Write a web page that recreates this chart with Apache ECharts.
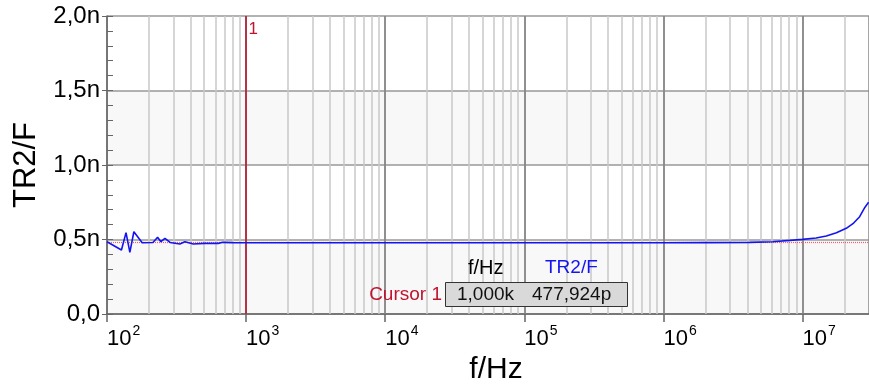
<!DOCTYPE html>
<html>
<head>
<meta charset="utf-8">
<script src="https://cdn.jsdelivr.net/npm/echarts@6/dist/echarts.min.js"></script>
<style>
html,body{margin:0;padding:0;background:#fff;}
#c{width:869px;height:386px;}
</style>
</head>
<body>
<div id="c"></div>
<script>
// Frequencies (Hz) and TR2/F values (nF)
const freqs = [100, 127, 137, 146, 156, 179, 214, 231, 244, 261, 284, 334, 363, 417, 500, 630, 680, 800, 1000,
  1e4, 1e5, 1e6, 2e6, 4.16e6, 6.12e6, 1e7, 1.25e7, 1.48e7, 1.75e7, 2.06e7, 2.3e7, 2.57e7, 2.8e7, 2.98e7];
const values = [0.485, 0.43, 0.546, 0.414, 0.552, 0.478, 0.48, 0.515, 0.485, 0.508, 0.48, 0.47, 0.485, 0.47, 0.474, 0.474, 0.481, 0.479, 0.478,
  0.478, 0.478, 0.478, 0.479, 0.481, 0.485, 0.501, 0.51, 0.523, 0.545, 0.575, 0.606, 0.653, 0.715, 0.75];
// Cursor
const cursorFreq = 1000;
const cursorValue = 0.477924;
const cursorFreqLabel = '1,000k';
const cursorValueLabel = '477,924p';
// Axis ranges / ticks
const xMin = 100, xMax = 3e7;
const decades = [100, 1e3, 1e4, 1e5, 1e6, 1e7];
const minorMult = [2, 3, 4, 5, 6, 7, 8, 9];
const yTickLabels = {0: '0,0', 0.5: '0,5n', 1: '1,0n', 1.5: '1,5n', 2: '2,0n'};

const FONT = 'Liberation Sans, Arial, sans-serif';
const minorLines = [];
decades.forEach(d => minorMult.forEach(m => { if (d * m < xMax) minorLines.push({xAxis: d * m}); }));
const majorLines = decades.slice(1).map(d => ({xAxis: d}));

const chart = echarts.init(document.getElementById('c'));
chart.setOption({
  animation: false,
  backgroundColor: '#fff',
  grid: {left: 107, right: 0, top: 16, bottom: 72, containLabel: false, outerBoundsMode: 'none'},
  xAxis: {
    type: 'log', logBase: 10, min: xMin, max: xMax, interval: 1,
    name: 'f/Hz', nameLocation: 'middle', nameGap: 41,
    nameTextStyle: {fontFamily: FONT, fontSize: 30, color: '#000', padding: [0, 0, 0, 16]},
    axisLine: {lineStyle: {color: '#666', width: 1.5}},
    axisTick: {show: true, length: 8, lineStyle: {color: '#666', width: 1.5}},
    axisLabel: {
      margin: 14, align: 'left', showMaxLabel: false,
      formatter: v => {
        const e = Math.log10(v);
        if (Math.abs(e - Math.round(e)) > 1e-6) return '';
        return '{b|10}{s|' + Math.round(e) + '}';
      },
      rich: {
        b: {fontFamily: FONT, fontSize: 22, color: '#000', lineHeight: 22, verticalAlign: 'bottom'},
        s: {fontFamily: FONT, fontSize: 14, color: '#000', lineHeight: 14, verticalAlign: 'bottom', padding: [0, 0, 12, 1]}
      }
    },
    splitLine: {show: true, lineStyle: {color: '#888', width: 1.5}}
  },
  yAxis: [{
    type: 'value', min: 0, max: 2, interval: 0.5,
    name: 'TR2/F', nameLocation: 'middle', nameGap: 61,
    nameTextStyle: {fontFamily: FONT, fontSize: 31, color: '#000'},
    axisLine: {show: true, lineStyle: {color: '#666', width: 1.5}},
    axisTick: {show: true, length: 5, lineStyle: {color: '#666'}},
    axisLabel: {margin: 7, fontFamily: FONT, fontSize: 24, color: '#000',
      formatter: v => yTickLabels[v] !== undefined ? yTickLabels[v] : ''},
    splitLine: {show: true, lineStyle: {color: '#999', width: 1.5}},
    splitArea: {show: true, areaStyle: {color: ['#f8f8f8', '#ffffff']}}
  }, {
    type: 'value', min: 0, max: 2, interval: 0.1, position: 'left',
    axisLine: {show: false},
    axisTick: {show: true, inside: true, length: 6, lineStyle: {color: '#666'}},
    axisLabel: {show: false},
    splitLine: {show: false}
  }],
  series: [{
    type: 'line', name: 'grid', data: [], silent: true,
    markLine: {
      silent: true, symbol: 'none', animation: false, label: {show: false},
      data: minorLines, lineStyle: {color: '#c8c8c8', width: 1.5, type: 'solid'}
    }
  }, {
    type: 'line', name: 'major', data: [], silent: true,
    markLine: {
      silent: true, symbol: 'none', animation: false, label: {show: false},
      data: majorLines, lineStyle: {color: '#888', width: 1.5, type: 'solid'}
    }
  }, {
    type: 'line', name: 'cursor', data: [], silent: true, z: 4,
    markLine: {
      silent: true, symbol: 'none', animation: false, label: {show: false},
      data: [{yAxis: cursorValue, lineStyle: {color: '#f06070', width: 1.2, type: [1, 1]}}]
    }
  }, {
    type: 'line', name: 'TR2/F', z: 5,
    data: freqs.map((f, i) => [f, values[i]]),
    showSymbol: false, symbol: 'none',
    lineStyle: {color: '#1414f0', width: 1.6}
  }, {
    type: 'line', name: 'cursorV', data: [], silent: true, z: 6,
    markLine: {
      silent: true, symbol: 'none', animation: false, label: {show: false},
      data: [{xAxis: cursorFreq, lineStyle: {color: '#c0142e', width: 1.5, type: 'solid'}}]
    },
    markPoint: {
      silent: true, symbol: 'circle', symbolSize: 0,
      data: [{coord: [cursorFreq, 2]}],
      label: {show: true, formatter: '1', position: 'inside', offset: [7, 13],
        fontFamily: FONT, fontSize: 17, color: '#c0142e'}
    }
  }],
  graphic: [
    {type: 'text', left: 468, top: 258, z: 100,
      style: {text: 'f/Hz', fontFamily: FONT, fontSize: 20, fill: '#000'}},
    {type: 'text', left: 545, top: 258, z: 100,
      style: {text: 'TR2/F', fontFamily: FONT, fontSize: 19, fill: '#1414f0'}},
    {type: 'text', right: 869 - 442, top: 285, z: 100,
      style: {text: 'Cursor 1', fontFamily: FONT, fontSize: 19, fill: '#c0142e'}},
    {type: 'rect', left: 445, top: 282, z: 100,
      shape: {width: 182, height: 24}, style: {fill: '#d9d9d9', stroke: '#333', lineWidth: 1}},
    {type: 'text', left: 457, top: 285, z: 101,
      style: {text: cursorFreqLabel, fontFamily: FONT, fontSize: 19, fill: '#111'}},
    {type: 'text', left: 532, top: 285, z: 101,
      style: {text: cursorValueLabel, fontFamily: FONT, fontSize: 19, fill: '#111'}}
  ]
});
</script>
</body>
</html>
